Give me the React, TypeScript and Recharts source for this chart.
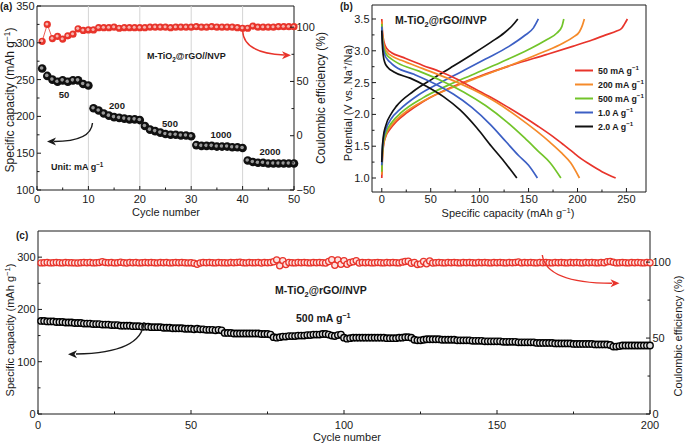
import React from "react";
import {
  LineChart,
  Line,
  XAxis,
  YAxis,
  ReferenceArea,
  ReferenceLine,
  Legend,
} from "recharts";

const FONT = '"Liberation Sans", Arial, Helvetica, sans-serif';
const INK = "#1a1a1a";
const RED = "#e8342b";

// (a) rate capability, cycles 1-50
const capRate = [
  265, 255, 250, 247, 249, 247, 249, 249, 244, 242,
  211, 208, 204, 201, 199, 198, 197, 196, 196, 195,
  187, 182, 180, 178, 176, 175, 175, 174, 174, 173,
  161, 160, 160, 160, 159, 159, 159, 158, 158, 157,
  140, 138, 137, 137, 136, 136, 136, 136, 136, 136,
];
const ceRate = [
  87, 102.5, 89.5, 91.5, 89, 92, 93.5, 98.5, 97, 97.5,
  97.5, 99.5, 99.5, 99.5, 100, 99, 99.5, 99.5, 99.5, 99.5,
  99.5, 100, 100, 100, 100, 99.5, 100, 100, 100, 100,
  100.5, 100, 100, 100.5, 100, 100, 100, 100, 99.5, 99,
  99, 101, 100, 100, 100, 100, 100.5, 100.5, 100.5, 100.5,
];
const rateSteps = [
  { text: "50", x: 64, y: 97.5 },
  { text: "200", x: 117, y: 108.5 },
  { text: "500", x: 170, y: 126.5 },
  { text: "1000", x: 221, y: 137.5 },
  { text: "2000", x: 270, y: 154.5 },
];

// (b) charge / discharge profiles, [capacity, potential]
const rateNames = ["50 mA g", "200 mA g", "500 mA g", "1.0 A g", "2.0 A g"];
const rateColors = ["#e8342b", "#f58a2a", "#72c42a", "#3c5fc4", "#111111"];

const dis50 = [[0, 3.5], [0.5, 3.34], [1.5, 3.2], [3, 3.1], [6, 3.02], [10, 2.97], [21, 2.9], [42, 2.77], [60, 2.67], [76, 2.56], [93, 2.42], [110, 2.28], [127, 2.13], [144, 1.97], [160, 1.81], [175, 1.65], [186, 1.52], [195, 1.41], [204, 1.3], [212, 1.22], [225, 1.1], [239, 1.0]];
const dis200 = [[0, 3.46], [0.5, 3.3], [1.5, 3.15], [3, 3.05], [6, 2.97], [10, 2.92], [20, 2.85], [42, 2.72], [67, 2.57], [93, 2.39], [117, 2.19], [140, 1.95], [158, 1.74], [172, 1.56], [184, 1.39], [193, 1.24], [202, 1.0]];
const dis500 = [[0, 3.42], [0.5, 3.25], [1.5, 3.1], [3, 3.0], [6, 2.92], [10, 2.87], [16, 2.81], [38, 2.68], [61, 2.53], [84, 2.35], [106, 2.14], [128, 1.88], [146, 1.63], [160, 1.42], [172, 1.24], [183, 1.0]];
const dis1000 = [[0, 3.38], [0.5, 3.2], [1.5, 3.04], [3, 2.94], [6, 2.86], [10, 2.8], [14, 2.75], [33, 2.63], [53, 2.49], [73, 2.32], [92, 2.11], [111, 1.84], [127, 1.57], [140, 1.35], [150, 1.2], [159, 1.0]];
const dis2000 = [[0, 3.32], [0.5, 3.12], [1.5, 2.93], [3, 2.82], [6, 2.74], [12, 2.67], [29, 2.57], [46, 2.44], [63, 2.28], [80, 2.07], [97, 1.79], [112, 1.5], [125, 1.26], [138, 1.0]];

const ch50 = [[0, 1.0], [0.5, 1.25], [1.7, 1.5], [4, 1.65], [8.5, 1.77], [15, 1.89], [25, 2.02], [42, 2.2], [70, 2.42], [100, 2.6], [134, 2.78], [168, 2.94], [195, 3.07], [215, 3.17], [229, 3.25], [240, 3.31], [245, 3.35], [248, 3.42], [251, 3.5]];
const ch200 = [[0, 1.05], [0.5, 1.3], [1.5, 1.5], [4, 1.67], [10, 1.83], [22, 2.01], [46, 2.24], [75, 2.44], [102, 2.6], [136, 2.8], [165, 2.98], [185, 3.12], [196, 3.22], [202, 3.3], [205, 3.4], [207, 3.5]];
const ch500 = [[0, 1.1], [0.5, 1.34], [1.5, 1.54], [4, 1.7], [10, 1.87], [20, 2.03], [42, 2.26], [68, 2.46], [92, 2.62], [122, 2.82], [150, 3.02], [168, 3.17], [179, 3.28], [184, 3.38], [186, 3.5]];
const ch1000 = [[0, 1.2], [0.5, 1.42], [1.5, 1.6], [4, 1.76], [10, 1.94], [18, 2.07], [37, 2.3], [60, 2.5], [80, 2.66], [106, 2.87], [130, 3.07], [146, 3.24], [155, 3.36], [160, 3.5]];
const ch2000 = [[0, 1.25], [0.5, 1.45], [1.5, 1.64], [4, 1.82], [10, 2.02], [15, 2.13], [32, 2.36], [53, 2.57], [70, 2.73], [93, 2.95], [112, 3.14], [125, 3.28], [133, 3.39], [139, 3.5]];

const chargeCurves = [ch50, ch200, ch500, ch1000, ch2000];
const dischargeCurves = [dis50, dis200, dis500, dis1000, dis2000];

// (c) long cycling at 500 mA g-1, cycles 1-200
const capCycle = [
  178, 178, 177, 177, 177, 176, 176, 176, 175, 175,
  175, 174, 174, 174, 173, 173, 173, 172, 172, 172,
  171, 171, 171, 170, 170, 170, 169, 169, 169, 169,
  168, 168, 168, 167, 167, 167, 166, 166, 166, 166,
  165, 165, 165, 164, 164, 164, 164, 163, 163, 163,
  162, 163, 162, 162, 161, 161, 161, 160, 161, 160,
  155, 155, 155, 154, 154, 154, 154, 154, 154, 154,
  154, 154, 153, 153, 153, 152, 147, 146, 147, 148,
  148, 149, 149, 149, 150, 150, 150, 151, 151, 152,
  152, 152, 153, 153, 152, 150, 149, 151, 152, 146,
  144, 145, 146, 146, 146, 146, 146, 146, 146, 146,
  146, 146, 146, 145, 145, 145, 145, 146, 146, 147,
  147, 146, 142, 141, 141, 142, 143, 143, 143, 143,
  143, 142, 142, 142, 142, 142, 141, 141, 141, 141,
  141, 140, 140, 140, 140, 139, 139, 139, 139, 139,
  139, 138, 138, 138, 138, 138, 137, 137, 137, 137,
  137, 137, 136, 136, 136, 136, 136, 136, 135, 135,
  135, 135, 135, 135, 134, 134, 134, 134, 134, 134,
  134, 133, 133, 133, 133, 133, 132, 129, 129, 130,
  131, 131, 131, 131, 131, 131, 131, 131, 131, 131,
];
const ceCycle = [
  99.5, 99.6, 99.7, 99.5, 99.6, 99.8, 99.6, 99.5, 99.7, 99.6,
  99.6, 99.5, 99.4, 99.6, 99.7, 99.6, 99.8, 99.5, 99.6, 99.7,
  100.2, 99.8, 99.6, 99.7, 99.5, 99.6, 99.9, 99.6, 99.4, 99.7,
  99.6, 99.8, 99.5, 99.6, 99.7, 99.6, 99.8, 99.6, 99.5, 99.7,
  99.6, 99.7, 99.5, 99.6, 99.8, 99.6, 99.7, 99.6, 99.5, 99.6,
  99.2, 98.6, 99.4, 99.7, 99.6, 99.8, 99.6, 99.5, 99.7, 99.6,
  99.6, 99.5, 99.7, 99.6, 99.8, 99.9, 99.6, 99.5, 99.7, 99.6,
  99.6, 99.8, 99.4, 99.7, 99.6, 99.8, 100.3, 101.5, 97.6, 101.0,
  98.4, 99.8, 99.6, 99.5, 99.7, 99.6, 99.8, 99.6, 99.5, 99.7,
  99.6, 99.8, 99.6, 99.4, 100.4, 101.6, 98.0, 101.4, 98.6, 101.0,
  98.6, 99.8, 100.2, 101.0, 99.4, 99.7, 99.6, 99.8, 99.5, 99.6,
  99.7, 99.6, 99.5, 99.8, 99.6, 99.7, 99.6, 99.5, 100.0, 100.4,
  100.6, 99.2, 99.8, 98.4, 98.8, 100.4, 99.0, 100.8, 99.4, 99.6,
  99.7, 99.6, 99.5, 99.8, 99.6, 99.7, 99.6, 99.5, 99.8, 99.6,
  99.7, 99.6, 99.5, 99.8, 99.6, 99.7, 99.6, 99.5, 99.8, 99.6,
  99.7, 99.6, 99.5, 99.8, 99.6, 99.7, 100.1, 99.5, 99.8, 99.6,
  99.7, 99.6, 99.5, 99.8, 99.6, 99.7, 99.6, 99.5, 99.8, 99.6,
  99.7, 99.6, 99.5, 99.8, 99.6, 99.7, 99.6, 99.5, 99.8, 99.6,
  99.7, 99.6, 99.5, 99.8, 99.6, 100.2, 100.4, 99.9, 99.5, 99.6,
  99.7, 99.6, 99.5, 99.8, 99.6, 99.7, 99.6, 99.5, 99.8, 99.6,
];

// ticks (minor + major)
const ticksAX = [0, 5, 10, 15, 20, 25, 30, 35, 40, 45, 50];
const majorAX = [0, 10, 20, 30, 40, 50];
const ticksACap = [100, 125, 150, 175, 200, 225, 250, 275, 300, 325, 350];
const majorACap = [100, 150, 200, 250, 300, 350];
const ticksACe = [-50, -25, 0, 25, 50, 75, 100];
const majorACe = [-50, 0, 50, 100];
const gridAX = [10, 20, 30, 40];

const ticksBX = [0, 25, 50, 75, 100, 125, 150, 175, 200, 225, 250];
const majorBX = [0, 50, 100, 150, 200, 250];
const ticksBY = [1, 1.25, 1.5, 1.75, 2, 2.25, 2.5, 2.75, 3, 3.25, 3.5];
const majorBY = [1, 1.5, 2, 2.5, 3, 3.5];

const ticksCX = [0, 25, 50, 75, 100, 125, 150, 175, 200];
const majorCX = [0, 50, 100, 150, 200];
const ticksCCap = [0, 50, 100, 150, 200, 250, 300];
const majorCCap = [0, 100, 200, 300];
const ticksCCe = [0, 25, 50, 75, 100];
const majorCCe = [0, 50, 100];

const rowsA = capRate.map((v, i) => ({ cycle: i + 1, cap: v, ce: ceRate[i] }));
const rowsC = capCycle.map((v, i) => ({ cycle: i + 1, cap: v, ce: ceCycle[i] }));
const toPts = (arr: number[][]) => arr.map(([q, v]) => ({ q, v }));

const fmtNum = (v: number, digits = 0) =>
  v < 0 ? "\u2212" + Math.abs(v).toFixed(digits) : v.toFixed(digits);

const tickText = { fontFamily: FONT, fontSize: 11, fill: INK };

const bottomTick = (major: number[], gap = 13) => (p: any) => {
  const v = p.payload.value;
  const big = major.includes(v);
  return (
    <g key={`bt-${v}`}>
      <line x1={p.x} x2={p.x} y1={p.y} y2={p.y - (big ? 4 : 2.5)} stroke={INK} />
      {big && (
        <text x={p.x} y={p.y + gap} textAnchor="middle" {...tickText}>
          {fmtNum(v)}
        </text>
      )}
    </g>
  );
};

const leftTick = (major: number[], digits = 0) => (p: any) => {
  const v = p.payload.value;
  const big = major.includes(v);
  return (
    <g key={`lt-${v}`}>
      <line x1={p.x} x2={p.x + (big ? 4 : 2.5)} y1={p.y} y2={p.y} stroke={INK} />
      {big && (
        <text x={p.x - 2.5} y={p.y + 4} textAnchor="end" {...tickText}>
          {fmtNum(v, digits)}
        </text>
      )}
    </g>
  );
};

const rightTick = (major: number[], digits = 0) => (p: any) => {
  const v = p.payload.value;
  const big = major.includes(v);
  return (
    <g key={`rt-${v}`}>
      <line x1={p.x} x2={p.x - (big ? 4 : 2.5)} y1={p.y} y2={p.y} stroke={INK} />
      {big && (
        <text x={p.x + 2.5} y={p.y + 3.5} textAnchor="start" {...tickText}>
          {fmtNum(v, digits)}
        </text>
      )}
    </g>
  );
};

const sphere = (body: string, shine: string, r: number) => (p: any) => {
  if (p.cx == null || p.cy == null) return <g key={`s-${p.index}`} />;
  return (
    <g key={`s-${body}-${p.index}`}>
      <circle cx={p.cx} cy={p.cy} r={r} fill={body} />
      <circle cx={p.cx - r * 0.12} cy={p.cy - r * 0.12} r={r * 0.42} fill={shine} />
    </g>
  );
};

const ring = (body: string, shine: string, r: number, w: number) => (p: any) => {
  if (p.cx == null || p.cy == null) return <g key={`r-${p.index}`} />;
  return (
    <circle
      key={`r-${body}-${p.index}`}
      cx={p.cx}
      cy={p.cy}
      r={r}
      fill={shine}
      stroke={body}
      strokeWidth={w}
    />
  );
};

const Sup = ({ t, up = 4, size = 0.7 }: { t: string; up?: number; size?: number }) => (
  <tspan dy={-up} fontSize={`${size}em`}>
    {t}
  </tspan>
);

const RateLegend = () => (
  <svg width={110} height={75} style={{ display: "block" }}>
    {rateNames.map((n, i) => (
      <g key={n}>
        <line x1={2} x2={20} y1={7.5 + i * 14} y2={7.5 + i * 14} stroke={rateColors[i]} strokeWidth={2} />
        <text x={25} y={10.8 + i * 14} fontFamily={FONT} fontSize={8.8} fontWeight="bold" fill={INK}>
          {n}
          <Sup t={"\u22121"} up={3.5} />
        </text>
      </g>
    ))}
  </svg>
);

const Arrow = ({ d, tip, dir, color }: { d: string; tip: [number, number]; dir: 1 | -1; color: string }) => {
  const [tx, ty] = tip;
  const pts = [
    [tx, ty],
    [tx - dir * 9, ty - 4],
    [tx - dir * 6.5, ty],
    [tx - dir * 9, ty + 4],
  ]
    .map((p) => p.join(","))
    .join(" ");
  return (
    <g>
      <path d={d} fill="none" stroke={color} strokeWidth={1.4} />
      <polygon points={pts} fill={color} />
    </g>
  );
};

const title = { fontFamily: FONT, fill: INK };
const bold = { fontFamily: FONT, fill: INK, fontWeight: "bold" as const };

const Overlay = () => (
  <svg
    width={685}
    height={445}
    style={{ position: "absolute", left: 0, top: 0, pointerEvents: "none" }}
  >
    {/* panel letters */}
    <text x={0} y={10} fontSize={10} {...bold}>(a)</text>
    <text x={340} y={10} fontSize={10} {...bold}>(b)</text>
    <text x={16} y={239} fontSize={10} {...bold}>(c)</text>

    {/* (a) axis titles */}
    <text transform="translate(14,100) rotate(-90)" textAnchor="middle" fontSize={12} {...title}>
      Specific capacity (mAh g<Sup t={"\u22121"} />
      <tspan dy={4}>)</tspan>
    </text>
    <text transform="translate(325,98) rotate(-90)" textAnchor="middle" fontSize={12} {...title}>
      Coulombic efficiency (%)
    </text>
    <text x={166} y={216} textAnchor="middle" fontSize={11} {...title}>Cycle number</text>

    {/* (a) annotations */}
    <text x={147} y={59} fontSize={9} {...bold}>
      M-TiO<tspan dy={2.5} fontSize="0.7em">2</tspan>
      <tspan dy={-2.5}>@rGO//NVP</tspan>
    </text>
    {rateSteps.map((s) => (
      <text key={s.text} x={s.x} y={s.y} textAnchor="middle" fontSize={9.5} {...bold}>
        {s.text}
      </text>
    ))}
    <text x={51} y={170} fontSize={9} {...bold}>
      Unit: mA g<Sup t={"\u22121"} up={3.5} />
    </text>
    <Arrow d="M92.5,123 Q91,141.5 54,141.5" tip={[47, 141.5]} dir={-1} color={INK} />
    <Arrow d="M242.7,31 Q243.5,53 284,55" tip={[291, 55.3]} dir={1} color={RED} />

    {/* (b) axis titles */}
    <text transform="translate(352,103) rotate(-90)" textAnchor="middle" fontSize={11} {...title}>
      Potential (V vs. Na<Sup t="+" />
      <tspan dy={4}>/Na)</tspan>
    </text>
    <text x={508} y={217} textAnchor="middle" fontSize={11} {...title}>
      Specific capacity (mAh g<Sup t={"\u22121"} />
      <tspan dy={4}>)</tspan>
    </text>
    <text x={395} y={24} fontSize={10.5} {...bold}>
      M-TiO<tspan dy={3} fontSize="0.7em">2</tspan>
      <tspan dy={-3}>@rGO//NVP</tspan>
    </text>

    {/* (c) axis titles */}
    <text transform="translate(13.5,330) rotate(-90)" textAnchor="middle" fontSize={11} {...title}>
      Specific capacity (mAh g<Sup t={"\u22121"} />
      <tspan dy={4}>)</tspan>
    </text>
    <text transform="translate(681.5,336) rotate(-90)" textAnchor="middle" fontSize={11} {...title}>
      Coulombic efficiency (%)
    </text>
    <text x={347} y={441} textAnchor="middle" fontSize={11} {...title}>Cycle number</text>
    <text x={275} y={294} fontSize={10.5} {...bold}>
      M-TiO<tspan dy={3} fontSize="0.7em">2</tspan>
      <tspan dy={-3}>@rGO//NVP</tspan>
    </text>
    <text x={296} y={322} fontSize={10.5} {...bold}>
      500 mA g<Sup t={"\u22121"} />
    </text>
    <Arrow d="M144,322 Q142,353 76,354" tip={[68, 354.3]} dir={-1} color={INK} />
    <Arrow d="M542.3,255 Q546,283 612,283.3" tip={[619.5, 283.3]} dir={1} color={RED} />
  </svg>
);

const PanelA = () => (
  <LineChart width={340} height={225} data={rowsA} margin={{ top: 6, right: 0, bottom: 0, left: 0 }}>
    <XAxis
      dataKey="cycle"
      type="number"
      domain={[0, 50]}
      ticks={ticksAX}
      interval={0}
      height={35}
      axisLine={false}
      tickLine={false}
      tickSize={0}
      tickMargin={0}
      tick={bottomTick(majorAX, 13)}
    />
    <YAxis
      yAxisId="cap"
      type="number"
      domain={[100, 350]}
      allowDataOverflow
      ticks={ticksACap}
      interval={0}
      width={37}
      axisLine={false}
      tickLine={false}
      tickSize={0}
      tickMargin={0}
      tick={leftTick(majorACap)}
    />
    <YAxis
      yAxisId="ce"
      orientation="right"
      type="number"
      domain={[-50, 119.5]}
      allowDataOverflow
      ticks={ticksACe}
      interval={0}
      width={46}
      axisLine={false}
      tickLine={false}
      tickSize={0}
      tickMargin={0}
      tick={rightTick(majorACe)}
    />
    {gridAX.map((g) => (
      <ReferenceLine key={g} x={g} yAxisId="cap" stroke="#d4d4d4" strokeWidth={1} />
    ))}
    <ReferenceArea yAxisId="cap" x1={0} x2={50} y1={100} y2={350} fill="none" stroke={INK} strokeWidth={1} />
    <Line
      yAxisId="ce"
      dataKey="ce"
      stroke={RED}
      strokeWidth={0.8}
      dot={sphere(RED, "#f7b3ae", 3.6)}
      isAnimationActive={false}
    />
    <Line
      yAxisId="cap"
      dataKey="cap"
      stroke="none"
      dot={sphere("#111", "#9a9a9a", 4.3)}
      isAnimationActive={false}
    />
  </LineChart>
);

const PanelB = () => (
  <LineChart width={345} height={225} margin={{ top: 5, right: 39, bottom: 0, left: 0 }}>
    <XAxis
      dataKey="q"
      type="number"
      domain={[-10, 270]}
      allowDataOverflow
      ticks={ticksBX}
      interval={0}
      height={33}
      axisLine={false}
      tickLine={false}
      tickSize={0}
      tickMargin={0}
      tick={bottomTick(majorBX, 10.5)}
    />
    <YAxis
      type="number"
      domain={[0.78, 3.72]}
      allowDataOverflow
      ticks={ticksBY}
      interval={0}
      width={32}
      axisLine={false}
      tickLine={false}
      tickSize={0}
      tickMargin={0}
      tick={leftTick(majorBY, 1)}
    />
    <ReferenceArea x1={-10} x2={270} y1={0.78} y2={3.72} fill="none" stroke={INK} strokeWidth={1} />
    {chargeCurves.map((c, i) => (
      <Line
        key={`ch-${i}`}
        data={toPts(c)}
        dataKey="v"
        type="monotone"
        stroke={rateColors[i]}
        strokeWidth={1.7}
        dot={false}
        legendType="none"
        isAnimationActive={false}
      />
    ))}
    {dischargeCurves.map((c, i) => (
      <Line
        key={`dis-${i}`}
        data={toPts(c)}
        dataKey="v"
        type="monotone"
        stroke={rateColors[i]}
        strokeWidth={1.7}
        dot={false}
        legendType="none"
        isAnimationActive={false}
      />
    ))}
    <Legend
      layout="vertical"
      align="center"
      verticalAlign="middle"
      content={() => <RateLegend />}
      wrapperStyle={{ left: 233, top: 63, width: 110, height: 75 }}
    />
  </LineChart>
);

const PanelC = () => (
  <LineChart width={685} height={220} data={rowsC} margin={{ top: 6, right: 0, bottom: 0, left: 0 }}>
    <XAxis
      dataKey="cycle"
      type="number"
      domain={[0, 200]}
      ticks={ticksCX}
      interval={0}
      height={31}
      axisLine={false}
      tickLine={false}
      tickSize={0}
      tickMargin={0}
      tick={bottomTick(majorCX, 15)}
    />
    <YAxis
      yAxisId="cap"
      type="number"
      domain={[0, 350]}
      allowDataOverflow
      ticks={ticksCCap}
      interval={0}
      width={38}
      axisLine={false}
      tickLine={false}
      tickSize={0}
      tickMargin={0}
      tick={leftTick(majorCCap)}
    />
    <YAxis
      yAxisId="ce"
      orientation="right"
      type="number"
      domain={[0, 120.5]}
      allowDataOverflow
      ticks={ticksCCe}
      interval={0}
      width={35}
      axisLine={false}
      tickLine={false}
      tickSize={0}
      tickMargin={0}
      tick={rightTick(majorCCe)}
    />
    <ReferenceArea yAxisId="cap" x1={0} x2={200} y1={0} y2={350} fill="none" stroke={INK} strokeWidth={1} />
    <Line
      yAxisId="ce"
      dataKey="ce"
      stroke="none"
      dot={ring(RED, "#fde2e0", 3.1, 1.25)}
      isAnimationActive={false}
    />
    <Line
      yAxisId="cap"
      dataKey="cap"
      stroke="none"
      dot={ring("#000", "#dcdcdc", 3.2, 1.4)}
      isAnimationActive={false}
    />
  </LineChart>
);

export default function App() {
  return (
    <div
      style={{
        position: "absolute",
        left: 0,
        top: 0,
        width: 685,
        height: 445,
        background: "#fff",
        fontFamily: FONT,
        overflow: "hidden",
      }}
    >
      <div style={{ position: "absolute", left: 0, top: 0 }}>
        <PanelA />
      </div>
      <div style={{ position: "absolute", left: 340, top: 0 }}>
        <PanelB />
      </div>
      <div style={{ position: "absolute", left: 0, top: 225 }}>
        <PanelC />
      </div>
      <Overlay />
    </div>
  );
}
